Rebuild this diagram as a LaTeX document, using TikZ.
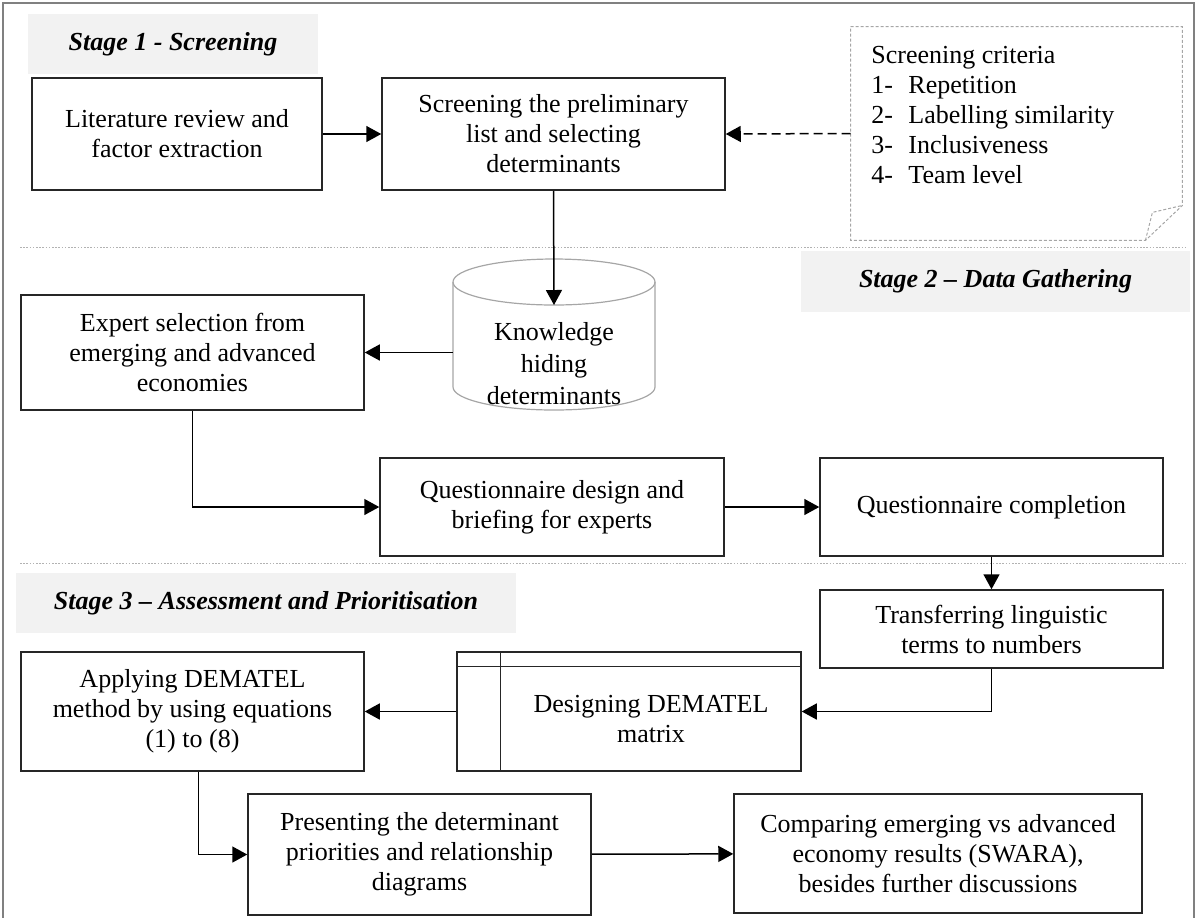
\documentclass[tikz,border=0pt]{standalone}
\usepackage{fontspec}
\setmainfont{Liberation Serif}
\usetikzlibrary{arrows.meta,calc}

\tikzset{
  proc/.style={draw=black!85, line width=0.75pt, align=center, inner sep=2pt, font=\fontsize{13}{15}\selectfont},
  stagelbl/.style={fill=black!5, inner sep=0pt, font=\fontsize{13}{15}\selectfont\bfseries\itshape},
  arr/.style={line width=0.75pt, -{Triangle[length=7.5pt,width=8pt]}},
  sepline/.style={draw=black!30, line width=0.4pt, dash pattern=on 0.8pt off 0.8pt},
  cylline/.style={draw=black!35, line width=0.6pt}
}

\begin{document}
\begin{tikzpicture}[x=0.5pt,y=-0.5pt]
  %%%%% START %%%%%
  \useasboundingbox (0,0) rectangle (1198,917);
  \draw[black!50, line width=1pt] (3,3) rectangle (1194,930);

  \draw[sepline] (20,247) -- (1185,247);
  \draw[sepline] (20,563) -- (1185,563);

  \node[stagelbl, minimum width=145pt, minimum height=30pt] (st1) at (173,44) {Stage 1 - Screening};
  \node[stagelbl, minimum width=194.5pt, minimum height=30.5pt] (st2) at (995.5,281.5) {Stage 2 – Data Gathering};
  \node[stagelbl, minimum width=250pt, minimum height=30pt] (st3) at (266,603) {Stage 3 – Assessment and Prioritisation};

  % stage 1
  \node[proc, minimum width=145pt, minimum height=56pt] (lit) at (177,134) {Literature review and\\factor extraction};
  \node[proc, minimum width=171.5pt, minimum height=56pt] (scr) at (553.5,134) {Screening the preliminary\\list and selecting\\determinants};

  \node[minimum width=165.5pt, minimum height=106.5pt, inner sep=0pt] (crit) at (1016.5,133.5) {};
  \draw[black!35, line width=0.5pt, dash pattern=on 1.5pt off 1pt]
    (crit.north west) -- (crit.north east) -- ($(crit.south east)+(0,-35)$)
    -- ($(crit.south east)+(-37,0)$) -- (crit.south west) -- cycle;
  \draw[black!35, line width=0.5pt, dash pattern=on 1.5pt off 1pt]
    ($(crit.south east)+(-37,0)$) -- ($(crit.south east)+(-30,-28)$) -- ($(crit.south east)+(0,-35)$);
  \node[anchor=north west, align=left, inner sep=0pt, font=\fontsize{13}{15}\selectfont] (crittxt) at (871,46)
    {Screening criteria\\
     \makebox[18.5pt][l]{1-}Repetition\\
     \makebox[18.5pt][l]{2-}Labelling similarity\\
     \makebox[18.5pt][l]{3-}Inclusiveness\\
     \makebox[18.5pt][l]{4-}Team level};

  % stage 2
  \node[minimum width=101pt, minimum height=75.5pt, inner sep=0pt] (kh) at (554,334.5) {};
  \coordinate (khtop) at (554,305);
  \draw[cylline] (453,282) -- (453,387) arc[start angle=180, end angle=360, x radius=50.5pt, y radius=11.5pt] -- (655,282);
  \draw[cylline] (554,282) ellipse [x radius=50.5pt, y radius=11.5pt];
  \node[align=center, font=\fontsize{13}{16}\selectfont] (khtxt) at (554,364) {Knowledge\\hiding\\determinants};

  \node[proc, minimum width=171.5pt, minimum height=57.5pt] (exp) at (192.5,352.5) {Expert selection from\\emerging and advanced\\economies};
  \node[proc, minimum width=172pt, minimum height=49pt] (qd) at (552,507) {Questionnaire design and\\briefing for experts};
  \node[proc, minimum width=171.5pt, minimum height=49pt] (qc) at (991.5,507) {Questionnaire completion};

  % stage 3
  \node[proc, minimum width=171.5pt, minimum height=39pt] (tr) at (991.5,629) {Transferring linguistic\\terms to numbers};
  \node[proc, minimum width=172pt, minimum height=59.5pt] (mat) at (629,711.5) {};
  \draw[black!85, line width=0.75pt] ($(mat.north west)+(0,15)$) -- ($(mat.north east)+(0,15)$);
  \draw[black!85, line width=0.75pt] ($(mat.north west)+(44,0)$) -- ($(mat.south west)+(44,0)$);
  \node[align=center, font=\fontsize{13}{15}\selectfont] (mattxt) at (651,719) {Designing DEMATEL\\matrix};
  \node[proc, minimum width=171.5pt, minimum height=59.5pt] (app) at (192.5,711.5) {Applying DEMATEL\\method by using equations\\(1) to (8)};
  \node[proc, minimum width=171.5pt, minimum height=60.5pt] (pre) at (419.5,854.5) {Presenting the determinant\\priorities and relationship\\diagrams};
  \node[proc, minimum width=204pt, minimum height=59.5pt] (cmp) at (938,853.5) {Comparing emerging vs advanced\\economy results (SWARA),\\besides further discussions};

  % arrows
  \draw[arr] (lit) -- (scr);
  \draw[arr, dash pattern=on 4.5pt off 2.5pt] (crit.west) -- (scr.east);
  \draw[arr] (scr.south) -- (khtop);
  \draw[arr] (kh.west |- exp.east) -- (exp.east);
  \draw[arr] (exp.south) |- (qd.west);
  \draw[arr] (qd) -- (qc);
  \draw[arr] (qc) -- (tr);
  \draw[arr] (tr.south) |- (mat.east);
  \draw[arr] (mat) -- (app);
  \draw[arr] ([xshift=3pt]app.south) |- (pre.west);
  \draw[arr] (pre) -- (cmp);
  %%%%% END %%%%%
\end{tikzpicture}
\end{document}
